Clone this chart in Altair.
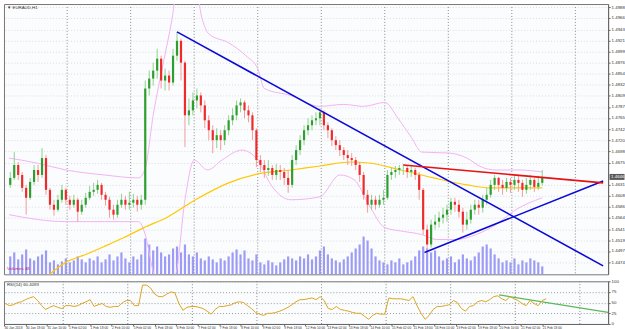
import altair as alt
import pandas as pd

# ---------------- data (hourly bars grouped by 3 hours) ----------------
first_open = 1.4630
closes = [1.4644,1.4670,1.4650,1.4624,1.4604,1.4636,1.4660,1.4650,1.4684,1.4620,
          1.4590,1.4580,1.4600,1.4620,1.4600,1.4590,1.4600,1.4576,1.4590,1.4604,
          1.4616,1.4620,1.4630,1.4610,1.4600,1.4580,1.4570,1.4590,1.4600,1.4590,
          1.4594,1.4600,1.4590,1.4600,1.4824,1.4844,1.4860,1.4884,1.4840,1.4850,
          1.4836,1.4890,1.4920,1.4876,1.4770,1.4780,1.4800,1.4810,1.4790,1.4760,
          1.4740,1.4720,1.4730,1.4720,1.4740,1.4760,1.4770,1.4790,1.4796,1.4780,
          1.4770,1.4740,1.4680,1.4670,1.4660,1.4664,1.4650,1.4660,1.4656,1.4644,
          1.4630,1.4680,1.4700,1.4720,1.4740,1.4750,1.4760,1.4764,1.4776,1.4750,
          1.4740,1.4720,1.4710,1.4700,1.4690,1.4684,1.4680,1.4670,1.4650,1.4610,
          1.4590,1.4600,1.4590,1.4600,1.4604,1.4650,1.4656,1.4660,1.4664,1.4664,
          1.4656,1.4660,1.4650,1.4620,1.4540,1.4510,1.4550,1.4556,1.4564,1.4570,
          1.4580,1.4596,1.4590,1.4576,1.4550,1.4560,1.4580,1.4590,1.4584,1.4600,
          1.4610,1.4630,1.4644,1.4630,1.4624,1.4636,1.4630,1.4640,1.4634,1.4620,
          1.4630,1.4640,1.4626,1.4634,1.4646]
highs = [1.4656,1.4696,1.4676,1.4656,1.4630,1.4644,1.4670,1.4670,1.4704,1.4690,
         1.4624,1.4600,1.4610,1.4630,1.4624,1.4608,1.4610,1.4604,1.4600,1.4614,
         1.4628,1.4634,1.4640,1.4634,1.4616,1.4606,1.4590,1.4600,1.4612,1.4608,
         1.4616,1.4612,1.4608,1.4610,1.4840,1.4860,1.4876,1.4904,1.4890,1.4864,
         1.4860,1.4904,1.4938,1.4924,1.4880,1.4804,1.4816,1.4824,1.4816,1.4800,
         1.4770,1.4750,1.4744,1.4740,1.4750,1.4770,1.4784,1.4800,1.4804,1.4800,
         1.4790,1.4776,1.4744,1.4690,1.4680,1.4680,1.4670,1.4672,1.4670,1.4664,
         1.4660,1.4690,1.4710,1.4730,1.4750,1.4764,1.4770,1.4776,1.4784,1.4780,
         1.4756,1.4744,1.4728,1.4720,1.4706,1.4700,1.4694,1.4686,1.4676,1.4656,
         1.4620,1.4610,1.4608,1.4610,1.4620,1.4660,1.4664,1.4668,1.4670,1.4672,
         1.4668,1.4670,1.4664,1.4656,1.4624,1.4550,1.4560,1.4570,1.4576,1.4584,
         1.4590,1.4604,1.4604,1.4600,1.4584,1.4576,1.4590,1.4600,1.4600,1.4610,
         1.4624,1.4640,1.4650,1.4646,1.4640,1.4644,1.4644,1.4648,1.4648,1.4640,
         1.4644,1.4650,1.4644,1.4648,1.4660]
lows = [1.4624,1.4640,1.4640,1.4616,1.4570,1.4600,1.4630,1.4636,1.4644,1.4610,
        1.4580,1.4568,1.4576,1.4594,1.4590,1.4580,1.4584,1.4556,1.4570,1.4584,
        1.4600,1.4608,1.4612,1.4600,1.4588,1.4564,1.4560,1.4564,1.4584,1.4580,
        1.4580,1.4584,1.4576,1.4580,1.4590,1.4810,1.4830,1.4844,1.4824,1.4820,
        1.4820,1.4830,1.4880,1.4840,1.4706,1.4750,1.4770,1.4784,1.4776,1.4744,
        1.4720,1.4694,1.4704,1.4700,1.4710,1.4730,1.4750,1.4760,1.4776,1.4764,
        1.4756,1.4720,1.4666,1.4656,1.4644,1.4648,1.4640,1.4640,1.4640,1.4630,
        1.4614,1.4624,1.4670,1.4690,1.4710,1.4730,1.4740,1.4750,1.4750,1.4740,
        1.4724,1.4708,1.4700,1.4688,1.4680,1.4670,1.4668,1.4660,1.4636,1.4600,
        1.4574,1.4580,1.4580,1.4584,1.4590,1.4600,1.4640,1.4644,1.4650,1.4650,
        1.4644,1.4646,1.4640,1.4600,1.4530,1.4494,1.4504,1.4540,1.4544,1.4552,
        1.4556,1.4570,1.4576,1.4564,1.4534,1.4540,1.4552,1.4570,1.4570,1.4574,
        1.4590,1.4604,1.4620,1.4616,1.4610,1.4616,1.4614,1.4620,1.4616,1.4606,
        1.4612,1.4620,1.4616,1.4620,1.4628]
volumes = [450,550,375,500,625,400,350,450,500,600,300,350,250,325,400,300,350,450,375,300,
           400,350,450,300,375,500,350,450,550,400,300,450,375,500,900,750,600,700,550,450,
           500,650,700,550,750,500,450,550,400,350,450,375,300,400,350,450,550,625,500,600,
           400,350,500,300,250,350,300,225,300,375,450,400,350,450,400,500,375,450,600,700,
           500,400,350,300,375,450,550,650,750,950,850,650,450,350,300,250,350,300,400,250,
           300,350,450,600,700,650,550,600,450,350,400,450,300,375,500,400,350,450,550,700,
           750,650,500,400,300,350,300,400,250,350,300,400,350,300,200]
rsi = [48,43,45,50,52,57,61,64,55,43,34,39,43,39,36,43,43,41,43,48,
       52,57,41,45,48,41,39,41,41,50,55,55,43,43,91,91,84,70,64,64,
       70,75,73,48,32,39,41,41,39,36,30,23,34,41,41,43,45,50,52,50,
       43,36,27,23,20,25,25,27,30,34,39,45,52,57,57,59,61,57,64,55,
       36,34,41,34,32,30,27,25,25,18,11,20,25,23,23,61,59,59,59,57,
       55,64,43,25,11,20,34,41,41,43,45,55,50,36,30,41,43,52,55,52,
       57,64,66,59,55,64,59,55,48,43,55,48,43,55,59]

# Bollinger band samples (hour index, price)
band_up_bar = [0,21,43,72,98,103,109,117,123,128,140,146,151,166,179,188,193,213,235,253,268,284,294,304,312,333,346,357,368,385,403]
band_up = [1.4684,1.4674,1.4660,1.4650,1.4644,1.4664,1.4770,1.4880,1.4960,1.5040,1.5040,1.4964,1.4934,1.4916,
           1.4890,1.4864,1.4824,1.4810,1.4788,1.4792,1.4788,1.4796,1.4764,1.4726,1.4696,1.4694,1.4684,1.4666,
           1.4660,1.4660,1.4656]
band_lo_bar = [0,43,72,98,103,109,117,126,133,140,150,161,176,188,198,213,235,250,261,272,284,299,312,323,338,353,368,383,403]
band_lo = [1.4570,1.4556,1.4556,1.4556,1.4530,1.4456,1.4420,1.4450,1.4600,1.4680,1.4660,1.4680,1.4700,1.4680,
           1.4630,1.4600,1.4606,1.4650,1.4640,1.4590,1.4544,1.4536,1.4530,1.4520,1.4520,1.4530,1.4550,1.4580,1.4604]

# 200-period moving average samples
ma_bar = [28,43,58,72,87,102,119,141,166,188,213,235,259,272,296,321,346,363,383,403]
ma = [1.4444,1.4474,1.4490,1.4506,1.4524,1.4544,1.4564,1.4600,1.4634,1.4652,1.4660,1.4668,1.4676,1.4674,1.4660,1.4644,1.4630,1.4624,1.4624,1.4624]

# trend lines (hour index, value)
blue1 = [(127, 1.4938), (449, 1.4467)]
blue2 = [(314, 1.4494), (449, 1.4638)]
red1 = [(298, 1.4670), (449, 1.4634)]
rsi_green = [(368, 68), (449, 27)]

price_ticks = [1.4988,1.4966,1.4943,1.4921,1.4899,1.4876,1.4854,1.4832,1.4809,1.4787,1.4765,1.4742,
               1.4720,1.4698,1.4675,1.4631,1.4608,1.4586,1.4564,1.4541,1.4519,1.4497,1.4474]
date_labels = ["30 Jan 2018","30 Jan 18:00","31 Jan 10:00","1 Feb 02:00","1 Feb 18:00","2 Feb 10:00",
               "5 Feb 02:00","5 Feb 18:00","6 Feb 10:00","7 Feb 02:00","7 Feb 18:00","8 Feb 10:00",
               "9 Feb 02:00","9 Feb 18:00","12 Feb 10:00","13 Feb 02:00","13 Feb 18:00","14 Feb 10:00",
               "15 Feb 02:00","15 Feb 18:00","16 Feb 10:00","19 Feb 02:00","19 Feb 18:00","20 Feb 10:00",
               "21 Feb 02:00","21 Feb 18:00"]
grid_bars = [44, 92, 140, 188, 236, 284, 332, 380, 428]
last_price = 1.4646

# ---------------- frames ----------------
n = len(closes)
opens = [first_open] + closes[:-1]
candles = pd.DataFrame({
    "bar": [3 * j + 1 for j in range(n)],
    "open": opens, "close": closes, "high": highs, "low": lows, "vol": volumes, "rsi": rsi,
})
candles["up"] = candles["close"] >= candles["open"]

X_DOM = [0, 449]
W = 608
FONT = "Liberation Sans"
FS = 4.4
xs = alt.Scale(domain=X_DOM, nice=False, zero=False)
ys = alt.Scale(domain=[1.4450, 1.4994], nice=False, zero=False)

grid_df = pd.DataFrame({"bar": grid_bars})
vgrid = alt.Chart(grid_df).mark_rule(color="#8a8a8a", strokeDash=[1, 2], strokeWidth=1).encode(
    x=alt.X("bar:Q", scale=xs, axis=None))

# main panel
base_ax = alt.Axis(orient="right", values=price_ticks, format=".4f", labelFontSize=FS, labelFont=FONT,
                   labelColor="#333", tickSize=2, tickColor="#666", domainColor="#666",
                   grid=True, gridColor="#d9dde2", gridDash=[1, 2], labelPadding=1, title=None)

vol = alt.Chart(candles).mark_bar(size=2.2, color="#9c9cf6").encode(
    x=alt.X("bar:Q", scale=xs, axis=None),
    y=alt.Y("vol:Q", scale=alt.Scale(domain=[0, 6800], nice=False), axis=None),
)

band_df = pd.concat([
    pd.DataFrame({"bar": band_up_bar, "p": band_up, "k": "up"}),
    pd.DataFrame({"bar": band_lo_bar, "p": band_lo, "k": "lo"}),
])
bands = alt.Chart(band_df).mark_line(color="#f3b2f3", strokeWidth=1, interpolate="monotone", clip=True).encode(
    x=alt.X("bar:Q", scale=xs, axis=None),
    y=alt.Y("p:Q", scale=ys, axis=base_ax),
    detail="k:N",
)
ma_line = alt.Chart(pd.DataFrame({"bar": ma_bar, "p": ma})).mark_line(
    color="#ffc800", strokeWidth=1.2, interpolate="monotone", clip=True).encode(
    x=alt.X("bar:Q", scale=xs, axis=None), y=alt.Y("p:Q", scale=ys, axis=base_ax))

col = alt.condition("datum.up", alt.value("#8fd28f"), alt.value("#f59a9a"))
bcol = alt.condition("datum.up", alt.value("#2e9e2e"), alt.value("#ee2a2a"))
wick = alt.Chart(candles).mark_rule(strokeWidth=1).encode(
    x=alt.X("bar:Q", scale=xs, axis=None),
    y=alt.Y("low:Q", scale=ys, axis=base_ax), y2="high:Q", color=col)
body = alt.Chart(candles).mark_bar(size=2.2).encode(
    x=alt.X("bar:Q", scale=xs, axis=None),
    y=alt.Y("open:Q", scale=ys, axis=base_ax), y2="close:Q", color=bcol)

def tline(pts, color, w):
    df = pd.DataFrame({"bar": [p[0] for p in pts], "p": [p[1] for p in pts]})
    return alt.Chart(df).mark_line(color=color, strokeWidth=w, clip=True).encode(
        x=alt.X("bar:Q", scale=xs, axis=None), y=alt.Y("p:Q", scale=ys, axis=base_ax))

lines = tline(blue1, "#0a0ad8", 1.6) + tline(blue2, "#0a0ad8", 1.6) + tline(red1, "#e81010", 1.6)

title_txt = alt.Chart(pd.DataFrame({"t": ["\u25bc EURAUD,H1"]})).mark_text(
    align="left", baseline="middle", fontSize=FS, font=FONT, color="#333").encode(
    text="t:N", x=alt.value(3), y=alt.value(4))
vol_txt = alt.Chart(pd.DataFrame({"t": ["Volumes 48"]})).mark_text(
    align="left", baseline="middle", fontSize=FS, font=FONT, color="#c02060").encode(
    text="t:N", x=alt.value(3), y=alt.value(267))

price_df = pd.DataFrame({"p": [last_price], "t": [f"{last_price:.4f}"]})
price_box = alt.Chart(price_df).mark_tick(orient="horizontal", size=15, thickness=6, color="#111").encode(
    x=alt.value(617), y=alt.Y("p:Q", scale=ys, axis=base_ax))
price_lab = alt.Chart(price_df).mark_text(align="left", baseline="middle", fontSize=FS, font=FONT,
                                          color="white").encode(
    x=alt.value(611), y=alt.Y("p:Q", scale=ys, axis=base_ax), text="t:N")

main_price = alt.layer(vgrid, bands, ma_line, wick, body, lines, price_box, price_lab, title_txt)
main = alt.layer(vol, main_price, vol_txt).resolve_scale(y="independent").properties(width=W, height=272)

# RSI panel
rsi_ax = alt.Axis(orient="right", values=[0, 25, 50, 75, 100], labelFontSize=FS, labelFont=FONT,
                  labelColor="#333", tickSize=2, tickColor="#666", domainColor="#666",
                  grid=True, gridColor="#9a9a9a", gridDash=[1, 2], labelPadding=1, title=None)
lab_expr = "[" + ",".join("'" + s + "'" for s in date_labels) + "][round(datum.value/16)]"
x_ax = alt.Axis(values=[16 * k for k in range(len(date_labels))], labelExpr=lab_expr, labelFontSize=3.3,
                labelFont=FONT, labelColor="#333", labelAlign="left", labelPadding=0, tickSize=2,
                tickColor="#666", domainColor="#666", grid=False, title=None, labelOverlap=False)
rsi_line = alt.Chart(candles).mark_line(color="#daa520", strokeWidth=1).encode(
    x=alt.X("bar:Q", scale=xs, axis=x_ax),
    y=alt.Y("rsi:Q", scale=alt.Scale(domain=[0, 100], nice=False), axis=rsi_ax))
g_df = pd.DataFrame({"bar": [p[0] for p in rsi_green], "r": [p[1] for p in rsi_green]})
rsi_g = alt.Chart(g_df).mark_line(color="#5cb85c", strokeWidth=1.2).encode(
    x=alt.X("bar:Q", scale=xs, axis=x_ax),
    y=alt.Y("r:Q", scale=alt.Scale(domain=[0, 100], nice=False), axis=rsi_ax))
vgrid2 = alt.Chart(grid_df).mark_rule(color="#8a8a8a", strokeDash=[1, 2], strokeWidth=1).encode(
    x=alt.X("bar:Q", scale=xs, axis=x_ax))
rsi_txt = alt.Chart(pd.DataFrame({"t": ["RSI(14) 60.4093"]})).mark_text(
    align="left", baseline="middle", fontSize=FS, font=FONT, color="#333").encode(
    text="t:N", x=alt.value(3), y=alt.value(4))
rsi_panel = alt.layer(vgrid2, rsi_g, rsi_line, rsi_txt).properties(width=W, height=43)

chart = alt.vconcat(main, rsi_panel, spacing=2).properties(
    padding={"left": 2, "top": 2, "right": 0, "bottom": 0},
    background="white",
).configure_view(stroke="#777", strokeWidth=1, fill="#fbfcfd")

chart.save("out.html", embed_options={"renderer": "svg", "actions": False})
